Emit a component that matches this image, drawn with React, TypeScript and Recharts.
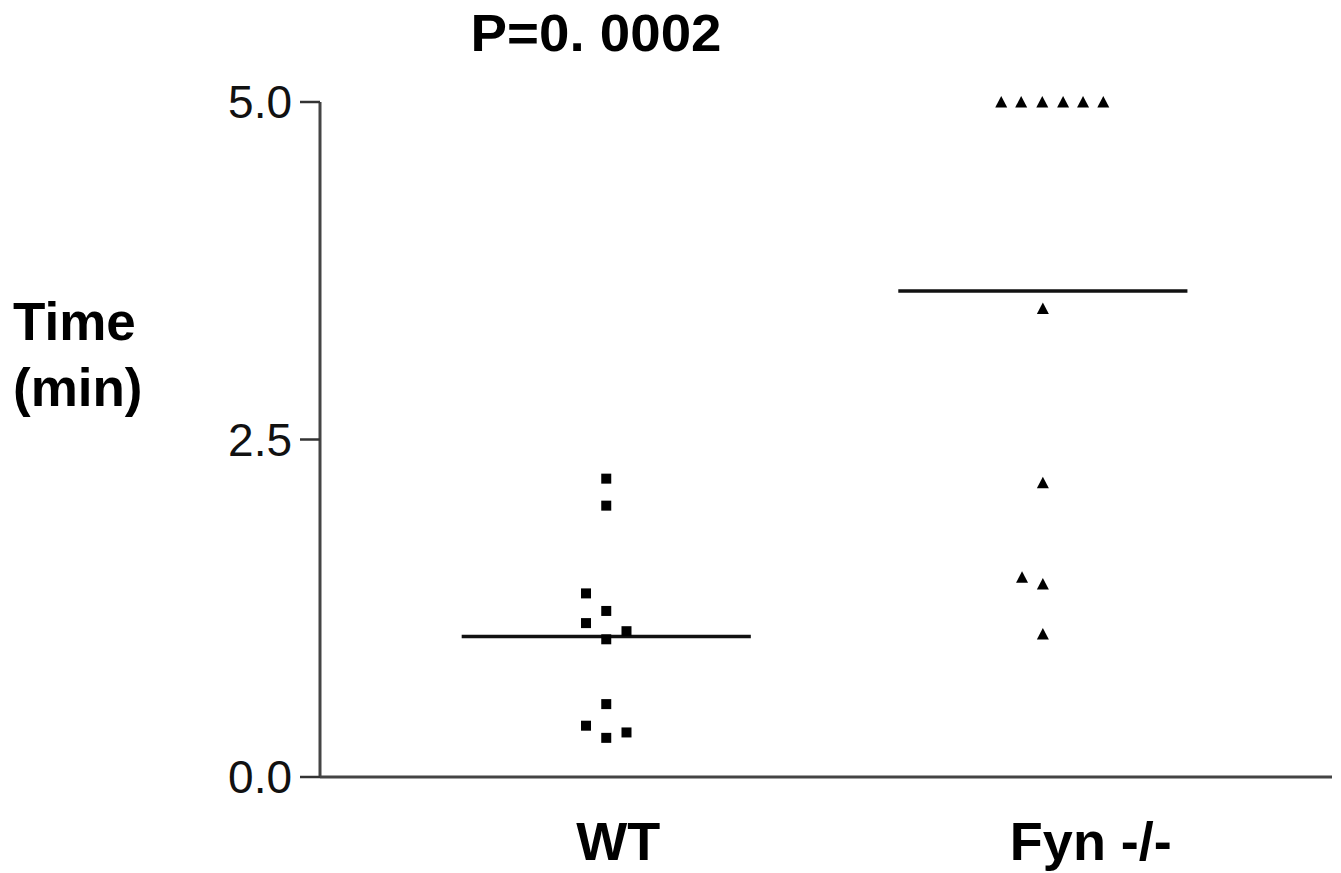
import React from "react";
import {
  ScatterChart,
  Scatter,
  XAxis,
  YAxis,
  ReferenceLine,
} from "recharts";

const FONT = "'Liberation Sans', Arial, Helvetica, sans-serif";

const categories = ["WT", "Fyn -/-"];
const categoryX = [0.99, 2.5];
const labelShift = [12, 48];

const wtX = [0.99, 0.99, 0.92, 0.99, 0.92, 1.06, 0.99, 0.99, 0.92, 1.06, 0.99];
const wtY = [2.21, 2.01, 1.36, 1.23, 1.14, 1.08, 1.02, 0.54, 0.38, 0.33, 0.29];

const fynX = [2.356, 2.425, 2.498, 2.57, 2.639, 2.709, 2.5, 2.5, 2.428, 2.5, 2.5];
const fynY = [5.0, 5.0, 5.0, 5.0, 5.0, 5.0, 3.47, 2.18, 1.48, 1.43, 1.06];

const meanWT = 1.04;
const meanFyn = 3.6;
const meanHalfWidth = 0.5;

const yTicks = [0, 2.5, 5];
const title = "P=0. 0002";
const yLabel = ["Time", "(min)"];

const wtData = wtX.map((x, i) => ({ x, y: wtY[i] }));
const fynData = fynX.map((x, i) => ({ x, y: fynY[i] }));

const SquareShape = (props: any) => {
  const { cx, cy } = props;
  if (cx == null || cy == null) return null;
  return <rect x={cx - 5} y={cy - 5} width={10} height={10} fill="#000" />;
};

const TriangleShape = (props: any) => {
  const { cx, cy } = props;
  if (cx == null || cy == null) return null;
  return (
    <polygon
      points={`${cx},${cy - 6} ${cx + 6},${cy + 5.5} ${cx - 6},${cy + 5.5}`}
      fill="#000"
    />
  );
};

const YTick = (props: any) => {
  const { x, y, payload } = props;
  return (
    <text
      x={x}
      y={y}
      dy={16}
      textAnchor="end"
      fontFamily={FONT}
      fontSize={46}
      fill="#111"
    >
      {Number(payload.value).toFixed(1)}
    </text>
  );
};

const XTick = (props: any) => {
  const { x, y, payload } = props;
  const idx = categoryX.indexOf(payload.value);
  if (idx < 0) return null;
  return (
    <text
      x={x + labelShift[idx]}
      y={y}
      dy={83}
      textAnchor="middle"
      fontFamily={FONT}
      fontWeight="bold"
      fontSize={54}
      fill="#000"
    >
      {categories[idx]}
    </text>
  );
};

export default function App() {
  return (
    <div style={{ position: "absolute", left: 0, top: 0, width: 1341, height: 873, background: "#fff" }}>
      <ScatterChart
        width={1341}
        height={873}
        margin={{ top: 102, right: 9, bottom: 0, left: 0 }}
      >
        <XAxis
          type="number"
          dataKey="x"
          domain={[0, 3.5]}
          ticks={categoryX}
          tick={<XTick />}
          tickLine={false}
          tickSize={0}
          tickMargin={0}
          height={96}
          axisLine={{ stroke: "#444", strokeWidth: 3 }}
          allowDataOverflow
        />
        <YAxis
          type="number"
          dataKey="y"
          domain={[0, 5]}
          ticks={yTicks}
          width={320}
          tickSize={20}
          tickMargin={8}
          tick={<YTick />}
          tickLine={{ stroke: "#333", strokeWidth: 2.5 }}
          axisLine={{ stroke: "#444", strokeWidth: 3 }}
        />
        <ReferenceLine
          segment={[
            { x: categoryX[0] - meanHalfWidth, y: meanWT },
            { x: categoryX[0] + meanHalfWidth, y: meanWT },
          ]}
          stroke="#111"
          strokeWidth={3.5}
        />
        <ReferenceLine
          segment={[
            { x: categoryX[1] - meanHalfWidth, y: meanFyn },
            { x: categoryX[1] + meanHalfWidth, y: meanFyn },
          ]}
          stroke="#111"
          strokeWidth={3.5}
        />
        <Scatter data={wtData} shape={<SquareShape />} isAnimationActive={false} />
        <Scatter data={fynData} shape={<TriangleShape />} isAnimationActive={false} />
      </ScatterChart>
      <svg
        width={1341}
        height={873}
        style={{ position: "absolute", left: 0, top: 0, pointerEvents: "none" }}
      >
        <text
          x={596}
          y={51}
          textAnchor="middle"
          fontFamily={FONT}
          fontWeight="bold"
          fontSize={52}
          fill="#000"
          textLength={251}
          lengthAdjust="spacingAndGlyphs"
        >
          {title}
        </text>
        <text x={13} y={340} fontFamily={FONT} fontWeight="bold" fontSize={53} fill="#000">
          {yLabel[0]}
        </text>
        <text x={13} y={406} fontFamily={FONT} fontWeight="bold" fontSize={53} fill="#000">
          {yLabel[1]}
        </text>
      </svg>
    </div>
  );
}
